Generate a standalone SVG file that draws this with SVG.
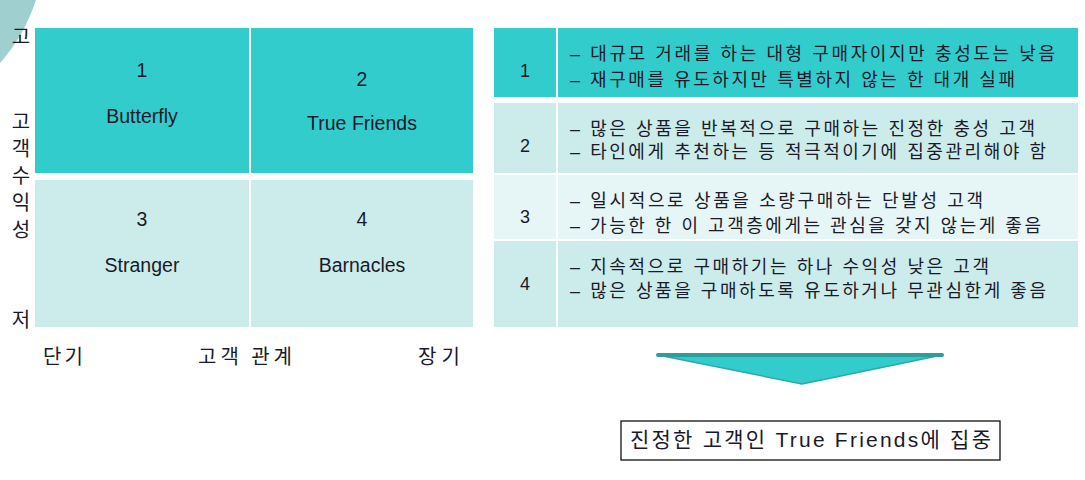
<svg xmlns="http://www.w3.org/2000/svg" width="1085" height="480" viewBox="0 0 1085 480">
<style>
.dark{fill:#33CCCC}
.light{fill:#CCECEB}
.lighter{fill:#E6F5F5}
.en{font-family:"Liberation Sans","Noto Sans CJK KR",sans-serif;font-size:19.5px;fill:#1a1a2a;text-anchor:middle}
.num{font-family:"Liberation Sans","Noto Sans CJK KR",sans-serif;font-size:18px;fill:#1a1a2a;text-anchor:middle}
.ko{font-family:"Noto Sans CJK KR","Liberation Sans",sans-serif;font-size:20px;fill:#1a1a2a}
.kc{font-family:"Noto Sans CJK KR","Liberation Sans",sans-serif;font-size:20px;fill:#1a1a2a;text-anchor:middle}
.row{font-family:"Liberation Sans","Noto Sans CJK KR",sans-serif;font-size:18px;fill:#1a1a2a}
.box{font-family:"Liberation Sans","Noto Sans CJK KR",sans-serif;font-size:21px;fill:#1a1a2a}
</style>
<rect width="1085" height="480" fill="#ffffff"/>
<path d="M0,0 L36,0 Q24,36 0,63 Z" fill="#9FCFCE"/>

<g id="axis-y">
<text class="kc" x="21" y="44">고</text>
<text class="kc" x="21" y="129">고</text>
<text class="kc" x="21" y="156">객</text>
<text class="kc" x="21" y="183">수</text>
<text class="kc" x="21" y="210">익</text>
<text class="kc" x="21" y="237">성</text>
<text class="kc" x="21" y="327">저</text>
</g>
<g id="axis-x">
<text class="ko" x="43" y="364" textLength="40" lengthAdjust="spacing">단기</text>
<text class="ko" x="198" y="364" textLength="94" lengthAdjust="spacing">고객 관계</text>
<text class="ko" x="418" y="364" textLength="42" lengthAdjust="spacing">장기</text>
</g>

<g id="cell1">
<rect class="dark" x="35" y="28" width="214" height="145"/>
<text class="en" x="142" y="77">1</text>
<text class="en" x="142" y="123">Butterfly</text>
</g>
<g id="cell2">
<rect class="dark" x="251" y="28" width="222" height="145"/>
<text class="en" x="362" y="86">2</text>
<text class="en" x="362" y="130">True Friends</text>
</g>
<g id="cell3">
<rect class="light" x="35" y="180" width="214" height="147"/>
<text class="en" x="142" y="226">3</text>
<text class="en" x="142" y="272">Stranger</text>
</g>
<g id="cell4">
<rect class="light" x="251" y="180" width="222" height="147"/>
<text class="en" x="362" y="226">4</text>
<text class="en" x="362" y="272">Barnacles</text>
</g>

<g id="row1">
<rect class="dark" x="494" y="28" width="62" height="69"/>
<rect class="dark" x="558" y="28" width="520" height="69"/>
<text class="num" x="525" y="77">1</text>
<text class="row" x="570" y="60" textLength="485" lengthAdjust="spacing">– 대규모 거래를 하는 대형 구매자이지만 충성도는 낮음</text>
<text class="row" x="570" y="86" textLength="445" lengthAdjust="spacing">– 재구매를 유도하지만 특별하지 않는 한 대개 실패</text>
</g>
<g id="row2">
<rect class="light" x="494" y="103" width="62" height="70"/>
<rect class="light" x="558" y="103" width="520" height="70"/>
<text class="num" x="525" y="152">2</text>
<text class="row" x="570" y="135" textLength="465" lengthAdjust="spacing">– 많은 상품을 반복적으로 구매하는 진정한 충성 고객</text>
<text class="row" x="570" y="158" textLength="476" lengthAdjust="spacing">– 타인에게 추천하는 등 적극적이기에 집중관리해야 함</text>
</g>
<g id="row3">
<rect class="lighter" x="494" y="175" width="62" height="64"/>
<rect class="lighter" x="558" y="175" width="520" height="64"/>
<text class="num" x="525" y="223">3</text>
<text class="row" x="570" y="207" textLength="413" lengthAdjust="spacing">– 일시적으로 상품을 소량구매하는 단발성 고객</text>
<text class="row" x="570" y="232" textLength="471" lengthAdjust="spacing">– 가능한 한 이 고객층에게는 관심을 갖지 않는게 좋음</text>
</g>
<g id="row4">
<rect class="light" x="494" y="241" width="62" height="86"/>
<rect class="light" x="558" y="241" width="520" height="86"/>
<text class="num" x="525" y="290">4</text>
<text class="row" x="570" y="273" textLength="419" lengthAdjust="spacing">– 지속적으로 구매하기는 하나 수익성 낮은 고객</text>
<text class="row" x="570" y="297" textLength="476" lengthAdjust="spacing">– 많은 상품을 구매하도록 유도하거나 무관심한게 좋음</text>
</g>

<g id="connectors">
<polygon points="658,355 942,355 802,384" fill="#33CCCC" stroke="#2BA9A8" stroke-width="1.5" stroke-linejoin="round"/>
<line x1="658" y1="355" x2="942" y2="355" stroke="#2E9E9C" stroke-width="4" stroke-linecap="round"/>
</g>

<g id="conclusion">
<rect x="621" y="421" width="379" height="39" fill="#ffffff" stroke="#111111" stroke-width="1.3"/>
<text class="box" x="630" y="447" textLength="361" lengthAdjust="spacing">진정한 고객인 True Friends에 집중</text>
</g>
</svg>
